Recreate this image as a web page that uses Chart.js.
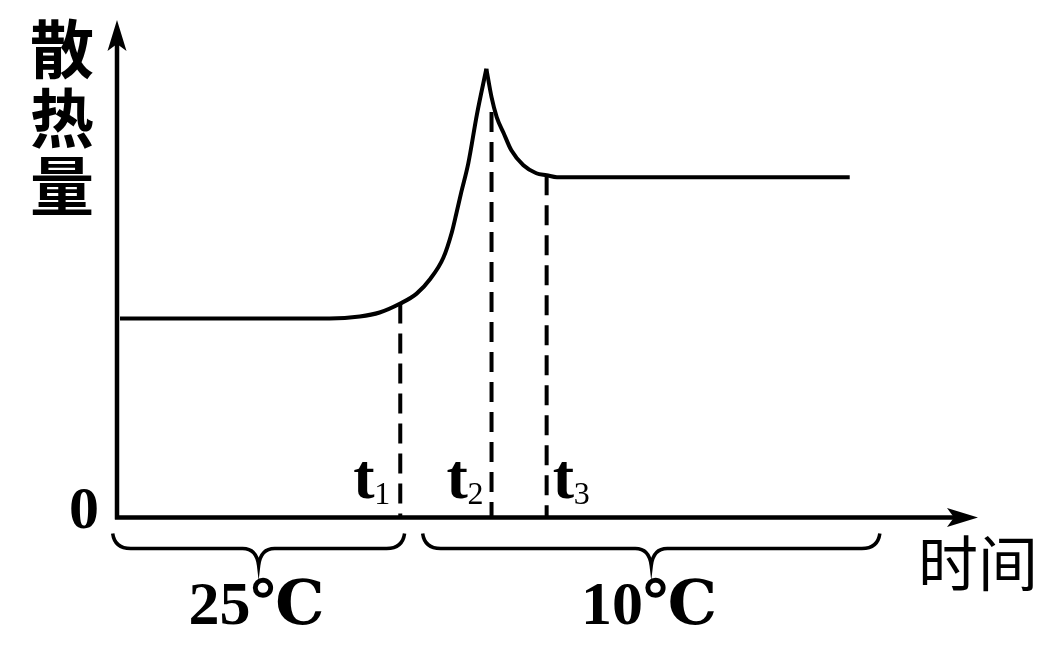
<!DOCTYPE html>
<html>
<head>
<meta charset="utf-8">
<script src="https://cdn.jsdelivr.net/npm/chart.js@4"></script>
<style>
  body { margin: 0; background: #fff; }
  #wrap { width: 1047px; height: 651px; }
</style>
</head>
<body>
<div id="wrap"><canvas id="heatChart"></canvas></div>
<script>
// Heat dissipation curve (arbitrary units)
const riseTime = [0.35, 24.7, 28.2, 30.5, 32.9, 34.8, 36.4, 37.9, 38.9, 39.4, 40.0, 40.8, 41.8, 42.9];
const riseHeat = [4.0, 4.0, 4.04, 4.12, 4.3, 4.5, 4.8, 5.22, 5.74, 6.1, 6.55, 7.12, 8.1, 9.02];
const fallTime = [42.9, 43.5, 44.1, 44.9, 45.8, 47.2, 48.7, 49.9, 51.1, 85.1];
const fallHeat = [9.02, 8.45, 8.05, 7.73, 7.38, 7.08, 6.92, 6.88, 6.84, 6.84];

// marked moments t1, t2, t3
const tickLabels = ['t1', 't2', 't3'];
const tickTimes = [32.9, 43.5, 49.9];
const tickTops = [4.3, 8.15, 6.88];

// temperature phases under the axis
const phaseLabels = ['25℃', '10℃'];
const phaseStart = [-0.5, 35.5];
const phaseEnd = [33.4, 88.6];

const yTitle = ['散', '热', '量'];
const xTitle = '时间';

const pts = (xs, ys) => xs.map((x, i) => ({ x: x, y: ys[i] }));

const datasets = [
  { data: pts(riseTime, riseHeat), cubicInterpolationMode: 'monotone' },
  { data: pts(fallTime, fallHeat), cubicInterpolationMode: 'monotone' }
].map(d => Object.assign(d, { borderColor: '#000', borderWidth: 4, pointRadius: 0, fill: false }));

tickTimes.forEach((t, i) => {
  datasets.push({
    data: [{ x: t, y: tickTops[i] }, { x: t, y: 0 }],
    borderColor: '#000', borderWidth: 4, borderDash: [20, 10],
    pointRadius: 0, fill: false, tension: 0
  });
});

// label offsets (px) relative to the dashed lines
const labelDx = [-47, -45, 6];

function arrowHead(ctx, tipX, tipY, dir) {
  // barbed arrow head, dir 'up' or 'right'
  ctx.beginPath();
  if (dir === 'up') {
    ctx.moveTo(tipX, tipY);
    ctx.lineTo(tipX + 9.5, tipY + 31);
    ctx.lineTo(tipX, tipY + 24);
    ctx.lineTo(tipX - 9.5, tipY + 31);
  } else {
    ctx.moveTo(tipX, tipY);
    ctx.lineTo(tipX - 31, tipY - 9.5);
    ctx.lineTo(tipX - 24, tipY);
    ctx.lineTo(tipX - 31, tipY + 9.5);
  }
  ctx.closePath();
  ctx.fill();
}

const decor = {
  id: 'decor',
  afterDatasetsDraw(chart) {
    const ctx = chart.ctx;
    const xs = chart.scales.x, ys = chart.scales.y;
    const x0 = xs.getPixelForValue(0), y0 = ys.getPixelForValue(0);
    const xEnd = xs.getPixelForValue(100), yTop = ys.getPixelForValue(10);
    ctx.save();
    ctx.strokeStyle = '#000';
    ctx.fillStyle = '#000';
    ctx.lineWidth = 4.5;
    ctx.lineCap = 'butt';

    // axes
    ctx.beginPath();
    ctx.moveTo(x0, y0 + 2);
    ctx.lineTo(x0, yTop + 20);
    ctx.moveTo(x0 - 2, y0);
    ctx.lineTo(xEnd - 20, y0);
    ctx.stroke();
    arrowHead(ctx, x0, yTop, 'up');
    arrowHead(ctx, xEnd, y0, 'right');

    // braces
    ctx.lineWidth = 3.5;
    phaseLabels.forEach((lab, i) => {
      const a = xs.getPixelForValue(phaseStart[i]);
      const b = xs.getPixelForValue(phaseEnd[i]);
      const m = (a + b) / 2;
      const top = y0 + 16, mid = y0 + 31, tip = y0 + 48;
      ctx.beginPath();
      ctx.moveTo(a, top);
      ctx.quadraticCurveTo(a + 2, mid, a + 18, mid);
      ctx.lineTo(m - 16, mid);
      ctx.quadraticCurveTo(m - 2, mid, m, tip);
      ctx.quadraticCurveTo(m + 2, mid, m + 16, mid);
      ctx.lineTo(b - 18, mid);
      ctx.quadraticCurveTo(b - 2, mid, b, top);
      ctx.stroke();

      ctx.font = 'bold 62px "Liberation Serif", "DejaVu Serif", "Noto Sans CJK SC", serif';
      ctx.textAlign = 'center';
      ctx.textBaseline = 'alphabetic';
      ctx.fillText(lab, m - 2, y0 + 106);
    });

    // origin label
    ctx.font = 'bold 60px "Liberation Serif", serif';
    ctx.textAlign = 'right';
    ctx.fillText('0', x0 - 18, y0 + 10);

    // t1, t2, t3
    tickLabels.forEach((lab, i) => {
      const px = xs.getPixelForValue(tickTimes[i]) + labelDx[i];
      ctx.textAlign = 'left';
      ctx.font = 'bold 64px "Liberation Serif", serif';
      ctx.fillText(lab[0], px, y0 - 20);
      ctx.font = '32px "Liberation Serif", serif';
      ctx.fillText(lab.slice(1), px + 21, y0 - 14);
    });

    // axis titles
    ctx.font = 'bold 64px "Noto Sans CJK SC", sans-serif';
    ctx.textAlign = 'center';
    ctx.textBaseline = 'middle';
    yTitle.forEach((ch, i) => ctx.fillText(ch, x0 - 55, yTop + 29 + i * 68.5));

    ctx.font = '60px "Noto Sans CJK SC", sans-serif';
    ctx.fillText(xTitle, 978, y0 + 46);
    ctx.restore();
  }
};

new Chart(document.getElementById('heatChart'), {
  type: 'line',
  data: { datasets: datasets },
  options: {
    responsive: true,
    maintainAspectRatio: false,
    animation: false,
    layout: { autoPadding: false, padding: { left: 117, right: 69, top: 20, bottom: 133.5 } },
    plugins: { legend: { display: false }, tooltip: { enabled: false } },
    scales: {
      x: { type: 'linear', min: 0, max: 100, display: false },
      y: { min: 0, max: 10, display: false }
    }
  },
  plugins: [decor]
});
</script>
</body>
</html>
